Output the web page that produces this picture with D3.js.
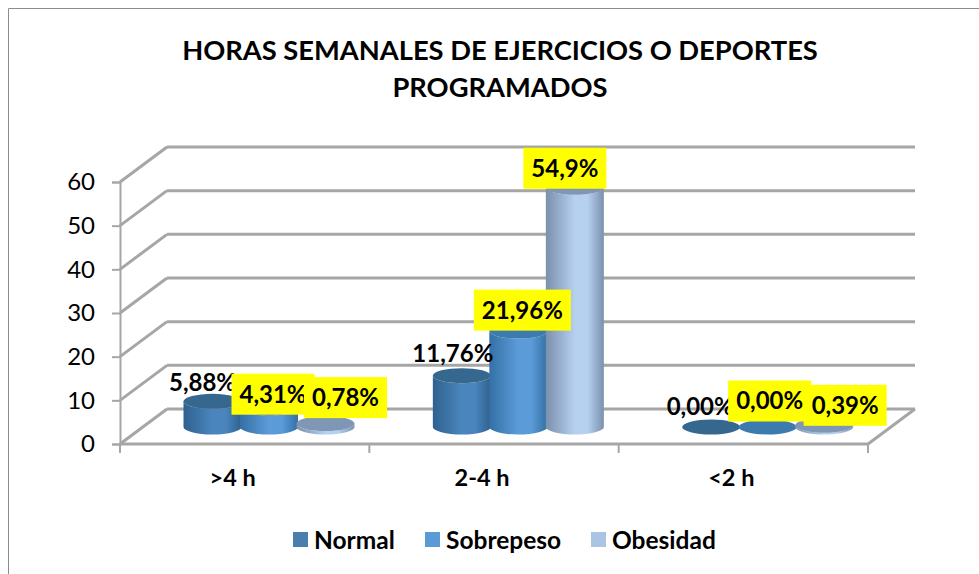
<!DOCTYPE html>
<html><head><meta charset="utf-8">
<script src="https://cdn.jsdelivr.net/npm/d3@7"></script>
<style>html,body{margin:0;padding:0;background:#fff;overflow:hidden}svg{display:block}text{font-family:Lato,"Open Sans",sans-serif}</style>
</head><body><div id="c"></div>
<script>
const categories = [">4 h", "2-4 h", "<2 h"];
const seriesNames = ["Normal", "Sobrepeso", "Obesidad"];
const normalValues = [5.88, 11.76, 0];
const sobrepesoValues = [4.31, 21.96, 0];
const obesidadValues = [0.78, 54.9, 0.39];
const normalLabels = ["5,88%", "11,76%", "0,00%"];
const sobrepesoLabels = ["4,31%", "21,96%", "0,00%"];
const obesidadLabels = ["0,78%", "54,9%", "0,39%"];
const yTicks = [0, 10, 20, 30, 40, 50, 60];
const titleLines = ["HORAS SEMANALES DE EJERCICIOS O DEPORTES", "PROGRAMADOS"];

const W = 979, H = 574;
const svg = d3.select("#c").append("svg").attr("width", W).attr("height", H);
const defs = svg.append("defs");
const grid = "#a6a6a6";

const y = d3.scaleLinear().domain([0, 60]).range([444, 182]);
const x = d3.scaleBand().domain(categories).range([120, 868]);
const inner = d3.scalePoint().domain(seriesNames).range([92.5, 205.5]);
const depth = {dx: 47, dy: -35};
const baseShift = -17, rx = 29, ry = 7.5;

const shades = {
  Normal: {edge: "#2f618f", mid: "#4a86bd", top: "#36688f", legend: "#4a7ead"},
  Sobrepeso: {edge: "#3470a6", mid: "#5b9bd8", top: "#3d7aae", legend: "#5b9bd5"},
  Obesidad: {edge: "#7a90ad", mid: "#b6d0f0", top: "#7f97b5", legend: "#abc4e4"}
};
seriesNames.forEach(s => {
  const g = defs.append("linearGradient").attr("id", "g" + s);
  [[0, shades[s].edge], [.5, shades[s].mid], [.72, shades[s].mid], [1, shades[s].edge]].forEach(([o, c]) =>
    g.append("stop").attr("offset", o).attr("stop-color", c));
});

// chart frame
svg.append("path").attr("d", `M8.5,574V8.5H979`).attr("fill", "none").attr("stroke", "#8c8c8c").attr("stroke-width", 1);

// walls
const walls = svg.append("g").attr("fill", "none").attr("stroke", grid).attr("stroke-width", 3);
walls.selectAll("line.back").data(yTicks).join("line").attr("class", "back")
  .attr("x1", 120 + depth.dx).attr("x2", 868 + depth.dx)
  .attr("y1", d => y(d) + depth.dy).attr("y2", d => y(d) + depth.dy);
walls.selectAll("line.side").data(yTicks).join("line").attr("class", "side")
  .attr("x1", 120).attr("x2", 120 + depth.dx)
  .attr("y1", d => y(d)).attr("y2", d => y(d) + depth.dy);
walls.append("line").attr("x1", 868).attr("y1", y(0)).attr("x2", 868 + depth.dx).attr("y2", y(0) + depth.dy);
walls.append("line").attr("x1", 120).attr("y1", y(0)).attr("x2", 868).attr("y2", y(0));

// axes
const yAxis = svg.append("g").attr("transform", "translate(120,0)")
  .call(d3.axisLeft(y).tickValues(yTicks).tickSize(8).tickPadding(17));
yAxis.select(".domain").attr("stroke", grid).attr("stroke-width", 2);
yAxis.selectAll("line").attr("stroke", grid).attr("stroke-width", 2);
yAxis.selectAll("text").attr("font-size", 24).attr("font-family", "Lato").attr("fill", "#000");

const xAxis = svg.append("g").attr("transform", "translate(-12,443)")
  .call(d3.axisBottom(x).tickSize(0).tickPadding(26));
xAxis.select(".domain").remove();
xAxis.selectAll("text").attr("font-size", 23.5).attr("font-weight", 700).attr("font-family", "Lato").attr("fill", "#000");
svg.append("g").selectAll("line").data(d3.range(categories.length + 1)).join("line")
  .attr("x1", i => 120 + i * x.step()).attr("x2", i => 120 + i * x.step())
  .attr("y1", 444).attr("y2", 453).attr("stroke", grid).attr("stroke-width", 2);

// cylinders
const valuesBySeries = {Normal: normalValues, Sobrepeso: sobrepesoValues, Obesidad: obesidadValues};
const labelsBySeries = {Normal: normalLabels, Sobrepeso: sobrepesoLabels, Obesidad: obesidadLabels};
const marks = [];
categories.forEach((c, ci) => seriesNames.forEach(s => marks.push({
  c, ci, s, v: valuesBySeries[s][ci], label: labelsBySeries[s][ci]
})));
const cx = d => x(d.c) + inner(d.s);
const topY = d => y(d.v) + baseShift;
const baseY = () => y(0) + baseShift;

const bars = svg.append("g").selectAll("g").data(marks).join("g");
bars.append("path").attr("fill", d => `url(#g${d.s})`).attr("d", d => {
  const X = cx(d), T = topY(d), B = baseY();
  return `M${X - rx},${T}L${X - rx},${B}A${rx},${ry} 0 0 0 ${X + rx},${B}L${X + rx},${T}A${rx},${ry} 0 0 1 ${X - rx},${T}Z`;
});
bars.append("ellipse").attr("cx", cx).attr("cy", topY).attr("rx", rx).attr("ry", ry)
  .attr("fill", d => shades[d.s].top);

// data labels: offsets of each label from the top of its cylinder
const labelDx = [[-10, 4, 20], [-9, 4, -10], [-11, 2, 21]];
const labelDy = [[-19, -14, -26], [-22, -21, -19], [-20, -26, -20]];
const labels = svg.append("g").selectAll("g").data(marks).join("g")
  .attr("transform", d => {
    const si = seriesNames.indexOf(d.s);
    return `translate(${cx(d) + labelDx[d.ci][si]},${topY(d) + labelDy[d.ci][si]})`;
  });
labels.filter(d => d.s !== "Normal").append("rect")
  .attr("x", d => d.label.length > 5 ? -48.5 : -41.5).attr("width", d => d.label.length > 5 ? 97 : 83)
  .attr("y", -20.5).attr("height", 41).attr("fill", "#ffff00");
labels.append("text").attr("text-anchor", "middle").attr("dy", "0.35em")
  .attr("font-size", 24).attr("font-weight", 700).attr("fill", "#000").text(d => d.label);

// title
svg.append("g").selectAll("text").data(titleLines).join("text")
  .attr("x", 500).attr("y", (d, i) => 60 + i * 37).attr("text-anchor", "middle")
  .attr("font-size", 27.3).attr("font-weight", 700).attr("fill", "#000").text(d => d);

// legend
const legendX = {Normal: 293, Sobrepeso: 425, Obesidad: 591};
const legend = svg.append("g").selectAll("g").data(seriesNames).join("g")
  .attr("transform", d => `translate(${legendX[d]},540)`);
legend.append("rect").attr("y", -8).attr("width", 15).attr("height", 15).attr("fill", d => shades[d].legend);
legend.append("text").attr("x", 21).attr("dy", "0.35em").attr("font-size", 24.5).attr("font-weight", 700).attr("fill", "#000").text(d => d);
</script></body></html>
